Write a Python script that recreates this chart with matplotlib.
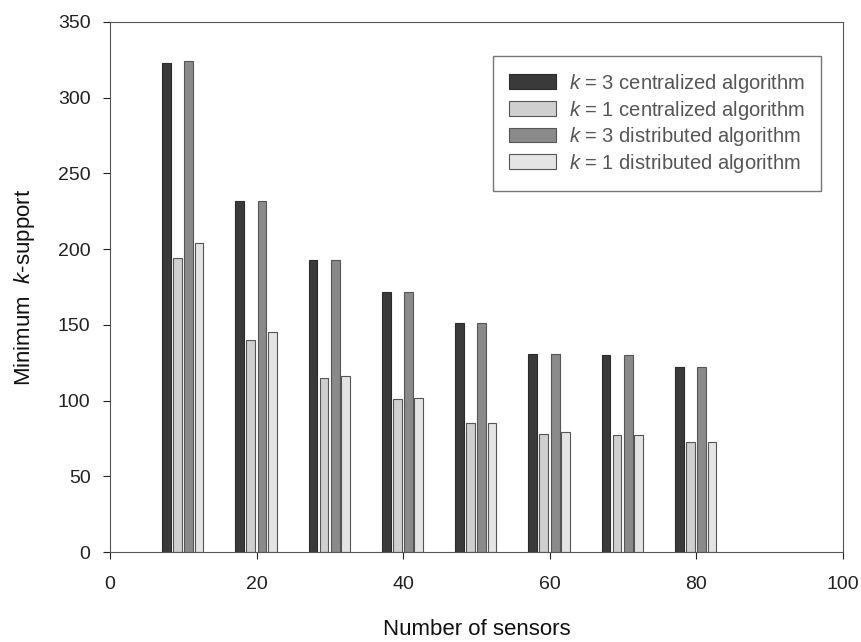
import matplotlib
matplotlib.use("Agg")
import matplotlib.pyplot as plt
import numpy as np

plt.rcParams['font.family'] = ['Liberation Sans', 'DejaVu Sans']
plt.rcParams['mathtext.fontset'] = 'custom'
plt.rcParams['mathtext.it'] = 'Liberation Sans:italic'
plt.rcParams['mathtext.rm'] = 'Liberation Sans'

sensors = [10, 20, 30, 40, 50, 60, 70, 80]
k3_central = [323, 232, 193, 172, 151, 131, 130, 122]
k1_central = [194, 140, 115, 101, 85, 78, 77, 73]
k3_dist = [324, 232, 193, 172, 151, 131, 130, 122]
k1_dist = [204, 145, 116, 102, 85, 79, 77, 73]
labels = [r"$k$ = 3 centralized algorithm", r"$k$ = 1 centralized algorithm",
          r"$k$ = 3 distributed algorithm", r"$k$ = 1 distributed algorithm"]

fig = plt.figure(figsize=(8.62, 6.42), dpi=100)
ax = fig.add_axes([0.1276, 0.140, 0.850, 0.826])

x = np.array(sensors, dtype=float)
w = 1.2
offsets = [-2.3, -0.8, 0.75, 2.15]
faces = ['#3a3a3a', '#cfcfcf', '#8a8a8a', '#e4e4e4']
edges = ['#2a2a2a', '#555555', '#555555', '#555555']
series = [k3_central, k1_central, k3_dist, k1_dist]
for s, off, fc, ec, lab in zip(series, offsets, faces, edges, labels):
    ax.bar(x + off, s, width=w, color=fc, edgecolor=ec, linewidth=0.8, label=lab)

ax.set_xlim(0, 100)
ax.set_ylim(0, 350)
ax.set_xticks(range(0, 101, 20))
ax.set_yticks(range(0, 351, 50))
ax.tick_params(direction='out', length=5, labelsize=14, colors='#222222')
ax.tick_params(axis='x', pad=12)
ax.tick_params(axis='y', pad=9)
for sp in ax.spines.values():
    sp.set_color('#555555')
ax.set_xlabel("Number of sensors", fontsize=16, labelpad=19, color='#111111')
ax.set_ylabel(r"Minimum  $k$-support", fontsize=16, labelpad=15, color='#111111')

leg = ax.legend(loc='upper right', bbox_to_anchor=(0.971, 0.936), borderaxespad=0,
                fontsize=14.5, frameon=True, fancybox=False, edgecolor='#555555',
                handlelength=2.35, handleheight=0.75, handletextpad=0.65,
                borderpad=0.8, labelspacing=0.18)
leg.get_frame().set_linewidth(1.0)
for t in leg.get_texts():
    t.set_color('#555555')

fig.savefig("out.png", dpi=100)
